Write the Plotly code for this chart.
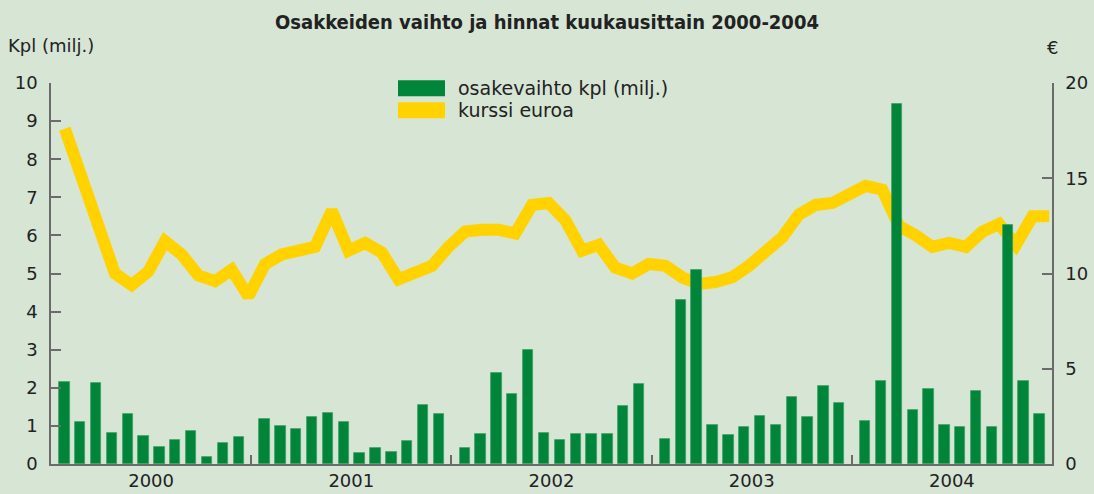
import plotly.graph_objects as go

years = ["2000", "2001", "2002", "2003", "2004"]

# Share turnover, million pcs (left axis)
turnover = [
    2.15, 1.09, 2.13, 0.82, 1.31, 0.73, 0.44, 0.63, 0.86, 0.19, 0.56, 0.70,
    1.17, 1.00, 0.91, 1.24, 1.35, 1.10, 0.28, 0.41, 0.31, 0.60, 1.55, 1.31,
    0.43, 0.80, 2.40, 1.84, 2.98, 0.82, 0.63, 0.79, 0.79, 0.79, 1.52, 2.09,
    0.66, 4.30, 5.09, 1.02, 0.77, 0.98, 1.25, 1.03, 1.77, 1.24, 2.06, 1.60,
    1.13, 2.19, 9.46, 1.41, 1.96, 1.03, 0.97, 1.91, 0.98, 6.27, 2.19, 1.31,
]
# Share price, euro (right axis)
price = [
    17.6, 15.1, 12.6, 10.0, 9.4, 10.1, 11.7, 11.0, 9.9, 9.6, 10.2, 8.8,
    10.5, 11.0, 11.2, 11.4, 13.3, 11.2, 11.6, 11.1, 9.7, 10.0, 10.4, 11.4,
    12.2, 12.3, 12.3, 12.1, 13.6, 13.7, 12.8, 11.2, 11.5, 10.3, 10.0, 10.5,
    10.4, 9.8, 9.45, 9.55, 9.8, 10.4, 11.2, 11.9, 13.1, 13.6, 13.7, 14.1,
    14.6, 14.4, 12.5, 12.0, 11.4, 11.6, 11.4, 12.2, 12.6, 11.5, 13.0, 13.0,
]

n = len(turnover)
# x positions in month units (bars grouped per year with a small gap at each year boundary)
bar_x = [(i // 12) * 12 + 0.8 + (i % 12) * 0.95 for i in range(n)]
line_x = [i + 0.83 for i in range(n)]

BG = "#d6e5d4"
GREEN = "#00853b"
YELLOW = "#ffd200"
TXT = "#222222"
AX = "#6b6b6b"
FONT = "DejaVu Sans, Noto Sans, sans-serif"

fig = go.Figure()
fig.add_trace(go.Scatter(x=line_x, y=price, mode="lines", name="kurssi euroa",
                         line=dict(color=YELLOW, width=12), yaxis="y", showlegend=False))
fig.add_trace(go.Bar(x=bar_x, y=turnover, name="osakevaihto kpl (milj.)", width=0.62,
                     marker=dict(color=GREEN, line=dict(color="#3f9e62", width=0.8)),
                     yaxis="y2", showlegend=False))

fig.update_layout(
    width=1094, height=494,
    paper_bgcolor=BG, plot_bgcolor=BG,
    margin=dict(l=51, r=42, t=83, b=30),
    font=dict(family=FONT, color=TXT, size=18),
    bargap=0,
    title=dict(text="<b>Osakkeiden vaihto ja hinnat kuukausittain 2000-2004</b>",
               x=0.5, xanchor="center", y=1 - 22 / 494, yanchor="middle",
               font=dict(family="DejaVu Sans Condensed, DejaVu Sans, sans-serif", size=20, color=TXT)),
    xaxis=dict(range=[0, 60], automargin=False, showgrid=False, zeroline=False, showline=True,
               linecolor=AX, linewidth=1.5,
               tickmode="array", tickvals=[6, 18, 30, 42, 54], ticktext=years, ticks="",
               tickfont=dict(size=18, color=TXT),
               minor=dict(tickmode="array", tickvals=[12, 24, 36, 48], ticks="inside",
                          ticklen=9, tickcolor=AX, tickwidth=1.5)),
    yaxis=dict(range=[0, 20], automargin=False, side="right", showgrid=False, zeroline=False,
               showline=True, linecolor=AX, linewidth=1.5, tickmode="array",
               tickvals=[0, 5, 10, 15, 20], ticks="inside", ticklen=10, tickcolor=AX,
               tickwidth=1.5, ticklabelstandoff=8, tickfont=dict(size=18, color=TXT)),
    yaxis2=dict(range=[0, 10], automargin=False, side="left", overlaying="y", showgrid=False,
                zeroline=False, showline=True, linecolor=AX, linewidth=1.5, tickmode="array",
                tickvals=list(range(0, 11)), ticks="inside", ticklen=10, tickcolor=AX,
                tickwidth=1.5, ticklabelstandoff=8, tickfont=dict(size=18, color=TXT)),
    showlegend=False,
)

# axis unit labels
fig.add_annotation(text="Kpl (milj.)", xref="paper", yref="paper", x=-51/1001, y=1.0,
                   xanchor="left", yanchor="middle", yshift=38, xshift=6,
                   showarrow=False, font=dict(size=18, color=TXT))
fig.add_annotation(text="€", xref="paper", yref="paper", x=1.0, y=1.0,
                   xanchor="center", yanchor="middle", yshift=36,
                   showarrow=False, font=dict(size=18, color=TXT))

# legend drawn as swatches + labels
fig.add_shape(type="rect", xref="paper", yref="paper",
              x0=(398-51)/1001, x1=(445-51)/1001, y0=(464-96)/381.3, y1=(464-80)/381.3,
              fillcolor=GREEN, line=dict(width=0))
fig.add_shape(type="rect", xref="paper", yref="paper",
              x0=(398-51)/1001, x1=(445-51)/1001, y0=(464-118)/381.3, y1=(464-102)/381.3,
              fillcolor=YELLOW, line=dict(width=0))
fig.add_annotation(text="osakevaihto kpl (milj.)", xref="paper", yref="paper",
                   x=(456-51)/1001, y=(464-88)/381.3, xanchor="left", yanchor="middle",
                   showarrow=False, font=dict(size=19, color=TXT))
fig.add_annotation(text="kurssi euroa", xref="paper", yref="paper",
                   x=(456-51)/1001, y=(464-110)/381.3, xanchor="left", yanchor="middle",
                   showarrow=False, font=dict(size=19, color=TXT))

fig.write_html("out.html", config={"displayModeBar": False},
               post_script="document.body.style.margin='0';document.body.style.overflow='hidden';")
